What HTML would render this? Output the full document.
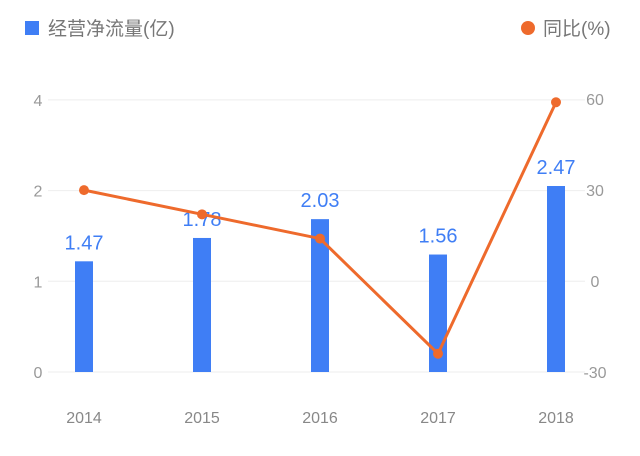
<!DOCTYPE html>
<html><head><meta charset="utf-8"><style>
body{margin:0;background:#fff;width:640px;height:451px;overflow:hidden}
text{font-family:"Liberation Sans","Noto Sans CJK SC",sans-serif}
</style></head><body>
<svg id="c" width="640" height="451" xmlns="http://www.w3.org/2000/svg">
<rect x="25" y="21" width="14" height="14" fill="#3f7ef5"/>
<text x="48" y="35" font-size="19" fill="#777">经营净流量(亿)</text>
<circle cx="528" cy="28" r="7" fill="#ee6a2c"/>
<text x="543" y="35" font-size="19" fill="#777">同比(%)</text>
</svg>
<script>
const categories=["2014","2015","2016","2017","2018"];
const barValues=[1.47,1.78,2.03,1.56,2.47];
const lineValues=[30,22,14,-24,59];
const leftTicks=["0","1","2","4"];
const rightTicks=[-30,0,30,60];
const svg=document.getElementById('c');
const NS="http://www.w3.org/2000/svg";
function mk(t,a){const e=document.createElementNS(NS,t);for(const k in a)e.setAttribute(k,a[k]);svg.appendChild(e);return e;}
const x=i=>84+i*118;
const yBar=v=>372-v*75.3;
const yLine=v=>281-v*3.03;
const yTick=i=>372-i*90.7;
leftTicks.forEach((t,i)=>{
 const g=mk('line',{x1:48,x2:585,y1:yTick(i),y2:yTick(i),stroke:'#eee','stroke-width':1});
 
 
 const l=mk('text',{x:38,y:yTick(i)+6,'font-size':16,fill:'#999','text-anchor':'middle'});l.textContent=t;
 
 
});
rightTicks.forEach(v=>{
 const l=mk('text',{x:595,y:yLine(v)+6,'font-size':16,fill:'#999','text-anchor':'middle'});l.textContent=v;
 
 
});
categories.forEach((c,i)=>{
 const l=mk('text',{x:x(i),y:423,'font-size':16,fill:'#888','text-anchor':'middle'});l.textContent=c;
 
 
 const b=mk('rect',{x:x(i)-9,y:yBar(barValues[i]),width:18,height:372-yBar(barValues[i]),fill:'#3f7ef5'});
 
 
 const v=mk('text',{x:x(i),y:yBar(barValues[i])-12,'font-size':20,fill:'#3f7ef5','text-anchor':'middle'});v.textContent=barValues[i].toFixed(2);
 
 
});
const p=mk('polyline',{points:lineValues.map((v,i)=>x(i)+','+yLine(v)).join(' '),fill:'none',stroke:'#ee6a2c','stroke-width':3});


lineValues.forEach((v,i)=>{
 const d=mk('circle',{cx:x(i),cy:yLine(v),r:5,fill:'#ee6a2c'});
 
 
});
</script>
</body></html>
